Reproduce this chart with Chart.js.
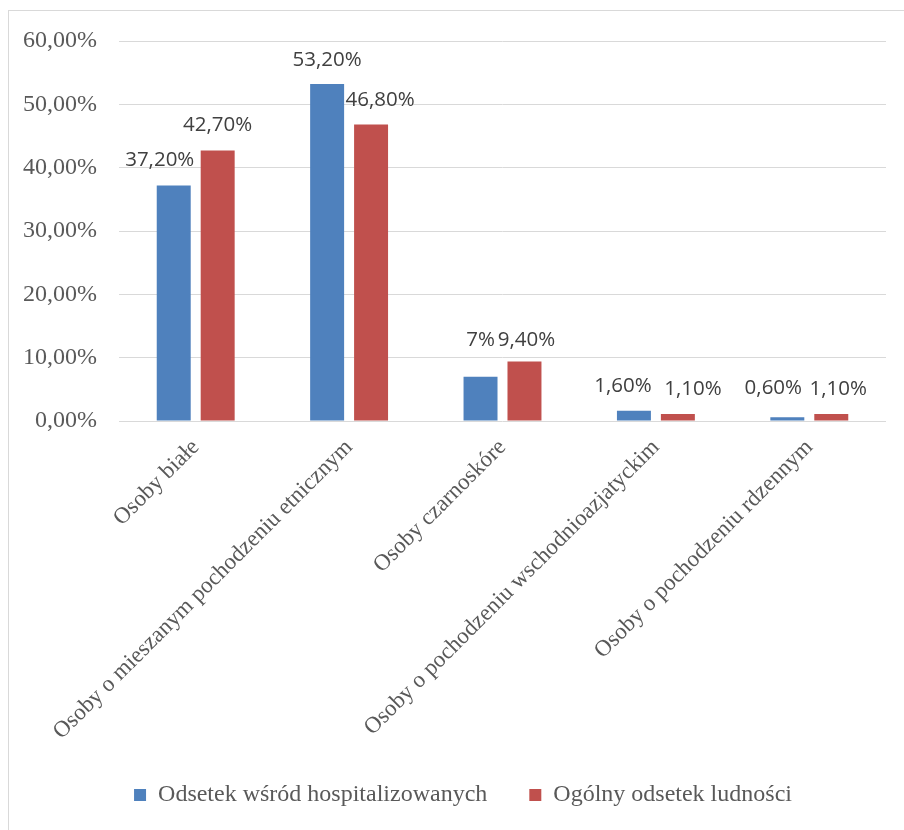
<!DOCTYPE html>
<html>
<head>
<meta charset="utf-8">
<script src="https://cdn.jsdelivr.net/npm/chart.js@4"></script>
<style>
  html, body { margin: 0; padding: 0; background: #fff; }
  #wrap { width: 904px; height: 830px; }
</style>
</head>
<body>
<div id="wrap"><canvas id="myChart" width="904" height="830"></canvas></div>
<script>
// data
const categories = [
    'Osoby białe',
    'Osoby o mieszanym pochodzeniu etnicznym',
    'Osoby czarnoskóre',
    'Osoby o pochodzeniu wschodnioazjatyckim',
    'Osoby o pochodzeniu rdzennym'
];
const hospitalized = [37.2, 53.2, 7, 1.6, 0.6];
const population = [42.7, 46.8, 9.4, 1.1, 1.1];
const hospitalizedLabels = ['37,20%', '53,20%', '7%', '1,60%', '0,60%'];
const populationLabels = ['42,70%', '46,80%', '9,40%', '1,10%', '1,10%'];
const yTickLabels = ['0,00%', '10,00%', '20,00%', '30,00%', '40,00%', '50,00%', '60,00%'];

// small nudges Excel applied to keep the labels apart
const labelNudge = [
    { dx: [-14, 0, 0, -11, -14], dy: [25, 24, 37, 25, 29] },
    { dx: [0, 9, 2, 15, 7], dy: [25, 24, 21, 25, 25] }
];

const serif = '"Liberation Serif", "Times New Roman", serif';

const frame = {
    id: 'frame',
    beforeDraw(chart) {
        const c = chart.ctx;
        c.save();
        c.strokeStyle = '#d9d9d9';
        c.lineWidth = 1;
        c.strokeRect(8.5, 10.5, 1000, 1000);
        c.restore();
    }
};

const valueLabels = {
    id: 'valueLabels',
    afterDatasetsDraw(chart) {
        const c = chart.ctx;
        c.save();
        c.font = '20.5px "Open Sans", sans-serif';
        c.fillStyle = '#404040';
        c.textAlign = 'center';
        c.textBaseline = 'middle';
        chart.data.datasets.forEach((ds, di) => {
            const meta = chart.getDatasetMeta(di);
            meta.data.forEach((bar, i) => {
                const n = labelNudge[di];
                c.fillText(ds.valueText[i], bar.x + n.dx[i], bar.y - n.dy[i]);
            });
        });
        c.restore();
    }
};

// legend: fixed height, nudged a bit to the right like the original
const legendSize = {
    id: 'legendSize',
    beforeInit(chart) {
        const lg = chart.legend;
        const fit = lg.fit;
        lg.fit = function () {
            fit.call(this);
            this.height = 89;
        };
    },
    afterLayout(chart) {
        chart.legend.left += 16;
        chart.legend.right += 16;
    }
};

var ctx = document.getElementById('myChart').getContext('2d');

var myChart = new Chart(ctx, {
    type: 'bar',
    data: {
        labels: categories,
        datasets: [
            {
                label: 'Odsetek wśród hospitalizowanych',
                data: hospitalized,
                valueText: hospitalizedLabels,
                backgroundColor: '#4f81bd',
                barPercentage: 0.773,
                categoryPercentage: 0.573
            },
            {
                label: 'Ogólny odsetek ludności',
                data: population,
                valueText: populationLabels,
                backgroundColor: '#c0504d',
                barPercentage: 0.773,
                categoryPercentage: 0.573
            }
        ]
    },
    plugins: [frame, valueLabels, legendSize],
    options: {
        responsive: false,
        animation: false,
        layout: {
            padding: { left: 8, right: 18, top: 41, bottom: 0 }
        },
        plugins: {
            tooltip: { enabled: false },
            legend: {
                position: 'bottom',
                labels: {
                    boxWidth: 12,
                    boxHeight: 12,
                    padding: 42,
                    color: '#595959',
                    font: { family: serif, size: 24 }
                }
            }
        },
        scales: {
            x: {
                grid: { display: false },
                border: { display: false },
                ticks: {
                    autoSkip: false,
                    maxRotation: 45,
                    minRotation: 45,
                    padding: 5,
                    color: '#595959',
                    font: { family: serif, size: 23 }
                },
                afterFit(scale) { scale.height = 320; }
            },
            y: {
                min: 0,
                max: 60,
                grid: { color: '#d9d9d9', drawTicks: false },
                border: { display: false },
                ticks: {
                    stepSize: 10,
                    padding: 22,
                    color: '#595959',
                    font: { family: serif, size: 24 },
                    callback: (v, i) => yTickLabels[i]
                },
                afterFit(scale) { scale.width = 111; }
            }
        }
    }
});
</script>
</body>
</html>
